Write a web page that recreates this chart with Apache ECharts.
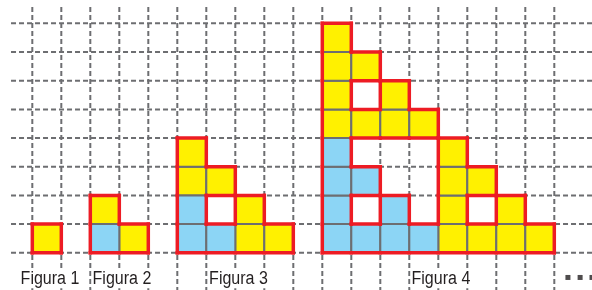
<!DOCTYPE html>
<html>
<head>
<meta charset="utf-8">
<script src="https://cdn.jsdelivr.net/npm/echarts@6/dist/echarts.min.js"></script>
<style>
  html, body { margin: 0; padding: 0; background: #fff; }
  #chart { width: 592px; height: 290px; }
</style>
</head>
<body>
<div id="chart"></div>
<script>
// grid lines (cell units)
const gridCols = [0, 1, 2, 3, 4, 5, 6, 7, 8, 9, 10, 11, 12, 13, 14, 15, 16, 17, 18];
const gridRows = [0, 1, 2, 3, 4, 5, 6, 7, 8];

// filled cells as [column, row], row 0 = bottom
const yellowCells = [
  [0, 0],
  [3, 0], [2, 1],
  [7, 0], [8, 0], [7, 1], [5, 2], [6, 2], [5, 3],
  [14, 0], [15, 0], [16, 0], [17, 0], [14, 1], [16, 1], [14, 2], [15, 2], [14, 3],
  [10, 4], [11, 4], [12, 4], [13, 4], [10, 5], [12, 5], [10, 6], [11, 6], [10, 7]
];
const blueCells = [
  [2, 0],
  [5, 0], [6, 0], [5, 1],
  [10, 0], [11, 0], [12, 0], [13, 0], [10, 1], [12, 1], [10, 2], [11, 2], [10, 3]
];

const labelNames = ['Figura 1', 'Figura 2', 'Figura 3', 'Figura 4'];
const labelX = [0.61, 3.09, 7.11, 14.09];
const labelY = -0.92;
const dotX = [18.47, 18.89, 19.3];

const X_MIN = -1.114, X_MAX = 19.3;
const Y_MIN = -1.297, Y_MAX = 8.814;
const LINE_LEFT = -0.734, LINE_TOP = 8.57;

const GREY = '#6d6e71';
const RED = '#ed1c24';

// red outline = edges between a filled cell and an empty one
const filled = {};
yellowCells.concat(blueCells).forEach(c => { filled[c[0] + ',' + c[1]] = true; });
const edges = [];
yellowCells.concat(blueCells).forEach(([c, r]) => {
  if (!filled[c + ',' + (r - 1)]) edges.push([c, r, c + 1, r]);
  if (!filled[c + ',' + (r + 1)]) edges.push([c, r + 1, c + 1, r + 1]);
  if (!filled[(c - 1) + ',' + r]) edges.push([c, r, c, r + 1]);
  if (!filled[(c + 1) + ',' + r]) edges.push([c + 1, r, c + 1, r + 1]);
});

const cellData = yellowCells.map(c => [c[0], c[1], 0]).concat(blueCells.map(c => [c[0], c[1], 1]));

const chart = echarts.init(document.getElementById('chart'));
chart.setOption({
  animation: false,
  grid: { left: 0, right: 0, top: 0, bottom: 0 },
  xAxis: { type: 'value', min: X_MIN, max: X_MAX, show: false },
  yAxis: { type: 'value', min: Y_MIN, max: Y_MAX, show: false },
  series: [
    {
      type: 'custom',
      clip: false,
      silent: true,
      data: gridCols,
      renderItem: (params, api) => {
        const a = api.coord([api.value(0), LINE_TOP]);
        const b = api.coord([api.value(0), Y_MIN]);
        return {
          type: 'line',
          shape: { x1: a[0], y1: a[1], x2: b[0], y2: b[1] },
          style: { stroke: GREY, lineWidth: 2, lineDash: [5, 3] }
        };
      }
    },
    {
      type: 'custom',
      clip: false,
      silent: true,
      data: gridRows,
      renderItem: (params, api) => {
        const a = api.coord([LINE_LEFT, api.value(0)]);
        const b = api.coord([X_MAX, api.value(0)]);
        return {
          type: 'line',
          shape: { x1: a[0], y1: a[1], x2: b[0], y2: b[1] },
          style: { stroke: GREY, lineWidth: 2, lineDash: [5, 3] }
        };
      }
    },
    {
      type: 'custom',
      clip: false,
      silent: true,
      data: cellData,
      renderItem: (params, api) => {
        const p0 = api.coord([api.value(0), api.value(1) + 1]);
        const p1 = api.coord([api.value(0) + 1, api.value(1)]);
        return {
          type: 'rect',
          shape: { x: p0[0], y: p0[1], width: p1[0] - p0[0], height: p1[1] - p0[1] },
          style: { fill: api.value(2) ? '#8cd5f5' : '#fff100', stroke: GREY, lineWidth: 2 }
        };
      }
    },
    {
      type: 'custom',
      clip: false,
      silent: true,
      data: edges,
      renderItem: (params, api) => {
        const a = api.coord([api.value(0), api.value(1)]);
        const b = api.coord([api.value(2), api.value(3)]);
        return {
          type: 'line',
          shape: { x1: a[0], y1: a[1], x2: b[0], y2: b[1] },
          style: { stroke: RED, lineWidth: 3.5, lineCap: 'square' }
        };
      }
    },
    {
      type: 'custom',
      clip: false,
      silent: true,
      data: labelNames.map((n, i) => ({ name: n, value: [labelX[i], labelY] })),
      renderItem: (params, api) => {
        const p = api.coord([api.value(0), api.value(1)]);
        return {
          type: 'text',
          x: p[0],
          y: p[1],
          scaleX: 0.89,
          style: {
            text: labelNames[params.dataIndex],
            font: '18px "Liberation Sans", Arial, sans-serif',
            fill: '#231f20',
            align: 'center',
            verticalAlign: 'middle',
            backgroundColor: '#fff',
            padding: [0, 1]
          }
        };
      }
    },
    {
      type: 'scatter',
      silent: true,
      symbol: 'rect',
      symbolSize: 5,
      itemStyle: { color: '#231f20' },
      data: dotX.map(x => [x, -0.86])
    }
  ]
});
</script>
</body>
</html>
